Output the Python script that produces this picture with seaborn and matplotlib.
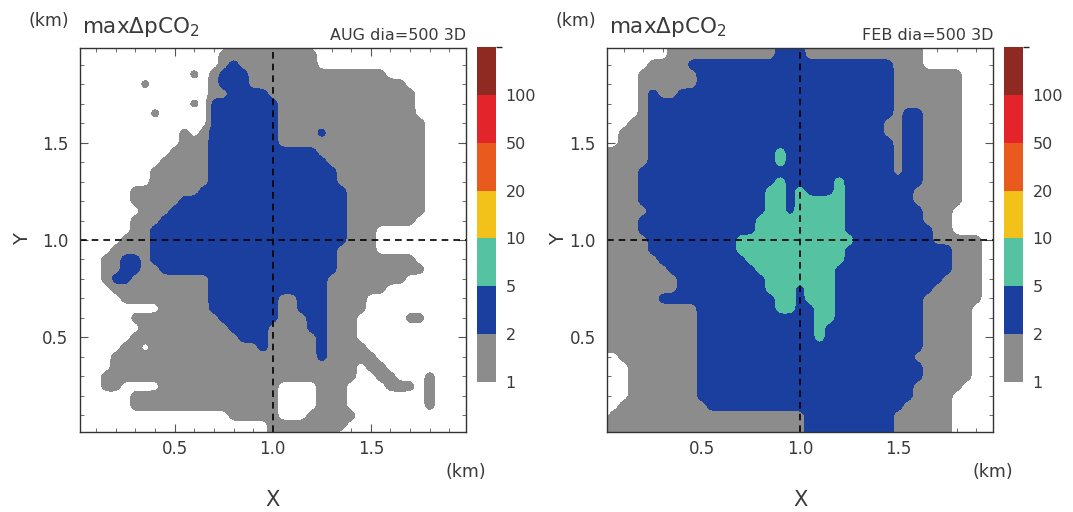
import re
import numpy as np
import matplotlib
matplotlib.use("Agg")
import matplotlib.pyplot as plt
from matplotlib.colors import ListedColormap, BoundaryNorm
from matplotlib.cm import ScalarMappable
from matplotlib.ticker import FixedLocator, MultipleLocator
import seaborn as sns

sns.set_theme(style="ticks")
plt.rcParams["font.family"] = ["DejaVu Sans"]
plt.rcParams["mathtext.default"] = "regular"

# colour classes of max delta-pCO2
levels = [1, 2, 5, 10, 20, 50, 100, 200]
level_labels = ["1", "2", "5", "10", "20", "50", "100"]
level_colors = ["#8c8c8c", "#1b3f9e", "#55c2a2", "#f2c21b",
                "#e85a1e", "#e3242b", "#8e2a22"]

# representative value of each class symbol used in the rows below
class_values = {".": 0.5, "g": 1.5, "b": 2.5, "t": 7.5}

# run-length rows of the field, north (y = 2.0 km) to south (y = 0 km),
# 41 samples per row from x = 0 to 2 km
aug_rows = [
    "16. 8g 17.",
    "15. 10g 16.",
    "15. 1g 1b 8g 16.",
    "12. 1g 1. 1g 3b 14g 9.",
    "7. 1g 6. 1g 3b 16g 7.",
    "14. 2g 4b 15g 6.",
    "12. 1g 1. 7b 14g 6.",
    "8. 1g 5. 7b 14g 6.",
    "14. 7b 15g 5.",
    "11. 1g 1. 1g 7b 4g 1b 10g 5.",
    "11. 3g 7b 15g 5.",
    "10. 4g 11b 11g 5.",
    "9. 5g 12b 10g 5.",
    "8. 6g 13b 9g 5.",
    "8. 6g 13b 9g 5.",
    "6. 7g 15b 8g 5.",
    "6. 5g 17b 8g 5.",
    "7. 3g 18b 8g 5.",
    "6. 3g 19b 7g 6.",
    "6. 2g 20b 3g 10.",
    "5. 3g 20b 3g 10.",
    "4. 4g 19b 4g 10.",
    "3. 2g 2b 1g 19b 8g 6.",
    "3. 2g 2b 2g 18b 9g 5.",
    "3. 1g 2b 8g 12b 8g 7.",
    "4. 10g 12b 6g 9.",
    "5. 9g 7b 2g 3b 4g 11.",
    "9. 5g 7b 2g 3b 4g 11.",
    "6. 9g 6b 3g 2b 3g 5. 2g 5.",
    "7. 9g 4b 4g 2b 3g 12.",
    "6. 11g 3b 5g 1b 3g 12.",
    "5. 2g 1. 11g 1b 5g 1b 4g 11.",
    "4. 21g 1b 5g 10.",
    "4. 25g 1. 2g 9.",
    "3. 26g 2. 2g 3. 1g 4.",
    "3. 2g 4. 12g 4. 3g 4. 3g 1. 1g 4.",
    "6. 15g 4. 3g 8. 1g 4.",
    "6. 15g 4. 3g 8. 1g 4.",
    "16. 5g 3. 5g 12.",
    "20. 8g 13.",
    "20. 7g 14.",
]

feb_rows = [
    "7. 11g 3b 12g 8.",
    "7. 11g 3b 12g 8.",
    "5. 4g 21b 3g 8.",
    "4. 6g 20b 7g 4.",
    "4. 6g 20b 7g 4.",
    "4. 1g 1b 2g 22b 7g 4.",
    "4. 1g 25b 7g 4.",
    "4. 1g 25b 1g 2b 4g 4.",
    "3. 2g 24b 2g 2b 4g 4.",
    "2. 3g 24b 2g 2b 4g 4.",
    "2. 3g 25b 1g 2b 4g 4.",
    "5g 13b 1t 11b 1g 2b 4g 4.",
    "5g 13b 1t 11b 1g 2b 4g 4.",
    "4g 26b 1g 2b 4g 4.",
    "4g 14b 1t 5b 1t 8b 4g 4.",
    "4g 13b 2t 1b 1t 3b 1t 7b 5g 4.",
    "4g 13b 2t 1b 5t 7b 5g 4.",
    "5g 12b 2t 1b 5t 8b 3g 5.",
    "4g 12b 9t 8b 3g 5.",
    "4g 12b 9t 9b 2g 5.",
    "5g 9b 12t 8b 5g 2.",
    "5g 9b 11t 11b 3g 2.",
    "6g 9b 10t 11b 3g 2.",
    "7g 9b 8t 12b 3g 2.",
    "8g 9b 7t 11b 4g 2.",
    "8g 9b 3t 1b 3t 10b 5g 2.",
    "6g 12b 2t 1b 3t 9b 6g 2.",
    "10g 8b 2t 2b 2t 9b 5g 3.",
    "10g 12b 2t 9b 5g 3.",
    "10g 12b 1t 10b 5g 3.",
    "10g 12b 1t 10b 5g 3.",
    "10g 23b 5g 3.",
    "2. 8g 22b 6g 3.",
    "3. 7g 23b 5g 3.",
    "3. 7g 23b 5g 3.",
    "3. 7g 22b 5g 4.",
    "3. 7g 22b 4g 5.",
    "2. 9g 20b 5g 5.",
    "1. 20g 9b 6g 5.",
    "21g 9b 6g 5.",
    "21g 9b 6g 5.",
]

panels = [("AUG dia=500 3D", aug_rows), ("FEB dia=500 3D", feb_rows)]

x_km = np.linspace(0.0, 2.0, 41)
y_km = np.linspace(2.0, 0.0, 41)


def decode(rows):
    field = []
    for row in rows:
        vals = []
        for n, c in re.findall(r"(\d+)([.gbt])", row):
            vals += [class_values[c]] * int(n)
        assert len(vals) == len(x_km), (row, len(vals))
        field.append(vals)
    return np.array(field)


def render_grid(field, factor=5, sigma=1.3):
    """Bilinear resampling onto a finer grid, softened by a small Gaussian
    kernel so the filled contours get rounded outlines."""
    xa, ya, f = x_km, y_km[::-1], field[::-1]
    xf = np.linspace(xa[0], xa[-1], (len(xa) - 1) * factor + 1)
    yf = np.linspace(ya[0], ya[-1], (len(ya) - 1) * factor + 1)
    tmp = np.array([np.interp(xf, xa, row) for row in f])
    fine = np.array([np.interp(yf, ya, col) for col in tmp.T]).T
    r = int(np.ceil(3 * sigma))
    k = np.exp(-0.5 * (np.arange(-r, r + 1) / sigma) ** 2)
    k /= k.sum()
    p = np.pad(fine, r, mode="edge")
    p = np.apply_along_axis(lambda v: np.convolve(v, k, mode="valid"), 0, p)
    p = np.apply_along_axis(lambda v: np.convolve(v, k, mode="valid"), 1, p)
    return xf, yf, p


W, H = 1073, 512
fig = plt.figure(figsize=(W / 100, H / 100), dpi=100)

text_col = "#3a3a3a"
cmap = ListedColormap(sns.color_palette(level_colors))
norm = BoundaryNorm(levels, cmap.N)

# pixel layout: axes box, colour bar box, label anchors
layout = [
    dict(ax=(79.5, 48, 466, 432), cb=(477, 47, 496, 382), ylab=23, km_top=49),
    dict(ax=(607, 48, 993, 432), cb=(1004, 47, 1023, 382), ylab=559, km_top=576),
]


def fig_box(x0, y0, x1, y1):
    return [x0 / W, 1 - y1 / H, (x1 - x0) / W, (y1 - y0) / H]


for (tag, rows), lay in zip(panels, layout):
    ax = fig.add_axes(fig_box(*lay["ax"]))
    cax = fig.add_axes(fig_box(*lay["cb"]))

    xf, yf, zf = render_grid(decode(rows))
    ax.contourf(xf, yf, zf, levels=levels, colors=level_colors)

    ax.axvline(1.0, color="black", lw=1.2, ls=(0, (4, 3)))
    ax.axhline(1.0, color="black", lw=1.2, ls=(0, (4, 3)))

    ax.set_xlim(0.015, 1.985)
    ax.set_ylim(0.015, 1.985)
    for axis in (ax.xaxis, ax.yaxis):
        axis.set_major_locator(FixedLocator([0.5, 1.0, 1.5]))
        axis.set_minor_locator(MultipleLocator(0.1))
        axis.set_major_formatter(plt.FuncFormatter(lambda v, p: f"{v:.1f}"))
    ax.tick_params(which="both", direction="in", top=True, right=True,
                   color="#555555", labelcolor=text_col)
    ax.tick_params(which="major", length=6, width=0.8, labelsize=12)
    ax.tick_params(which="minor", length=3, width=0.6)
    ax.tick_params(axis="x", which="major", pad=6)
    ax.tick_params(axis="y", which="major", pad=8)
    for s in ax.spines.values():
        s.set_color("#333333")
        s.set_linewidth(1.0)
    ax.set_xlabel("")
    ax.set_ylabel("")

    x0, y0, x1, y1 = lay["ax"]
    # headings above the panel
    fig.text(lay["km_top"] / W, 1 - 21 / H, "(km)", ha="center", va="center",
             fontsize=12.5, color=text_col)
    fig.text((x0 + 2) / W, 1 - 33 / H, r"max$\Delta$pCO$_2$", ha="left",
             va="baseline", fontsize=15.5, color=text_col)
    fig.text(x1 / W, 1 - 40 / H, tag, ha="right", va="baseline",
             fontsize=11.5, color=text_col)
    # axis names and units
    fig.text(x1 / W, 1 - 472 / H, "(km)", ha="center", va="center",
             fontsize=12.5, color=text_col)
    fig.text((x0 + x1) / 2 / W, 1 - 500 / H, "X", ha="center", va="center",
             fontsize=15, color=text_col)
    fig.text(lay["ylab"] / W, 1 - 239 / H, "Y", ha="center", va="center",
             rotation=90, fontsize=14, color=text_col)

    cb = fig.colorbar(ScalarMappable(norm=norm, cmap=cmap), cax=cax,
                      boundaries=levels, spacing="uniform", ticks=levels[:-1])
    cb.outline.set_visible(False)
    cb.set_ticklabels(level_labels)
    cax.tick_params(length=0, labelsize=11.5, labelcolor=text_col, pad=7)

fig.savefig("out.png", dpi=100)
